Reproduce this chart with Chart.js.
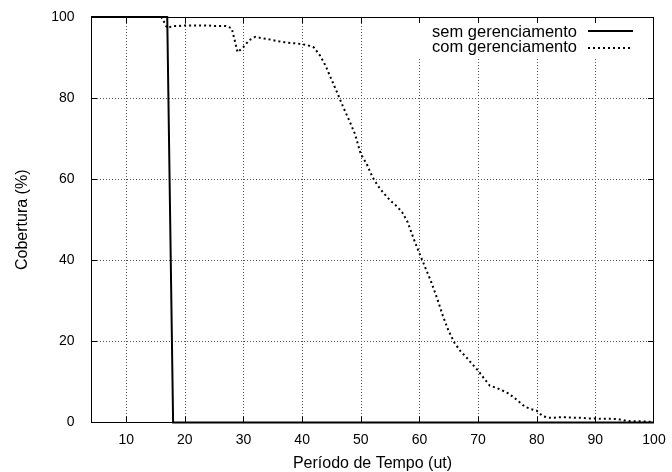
<!DOCTYPE html>
<html><head><meta charset="utf-8">
<script src="https://cdn.jsdelivr.net/npm/chart.js@4.4.1/dist/chart.umd.min.js"></script>
<style>html,body{margin:0;padding:0;background:#fff}#wrap{width:672px;height:472px}</style>
</head><body><div id="wrap"><canvas id="c" width="672" height="472"></canvas></div>
<script>
const periods = [4,5,6,7,8,9,10,11,12,13,14,15,16,17,18,19,20,21,22,23,24,25,26,27,28,29,30,
  31,32,33,34,35,36,37,38,39,40,41,42,43,44,45,46,47,48,49,50,51,52,53,54,55,56,57,58,59,60,
  61,62,63,64,65,66,67,68,69,70,71,72,73,74,75,76,77,78,79,80,81,82,83,84,85,86,87,88,89,90,
  91,92,93,94,95,96,97,98,99,100];
const semGerenciamento = [100,100,100,100,100,100,100,100,100,100,100,100,100,100,
  0,0,0,0,0,0,0,0,0,0,0,0,0,0,0,0,0,0,0,0,0,0,0,0,0,0,0,0,0,0,0,0,0,0,0,0,0,0,0,0,0,0,0,
  0,0,0,0,0,0,0,0,0,0,0,0,0,0,0,0,0,0,0,0,0,0,0,0,0,0,0,0,0,0,0,0,0,0,0,0,0,0,0,0];
const comGerenciamento = [100,100,100,100,100,100,100,100,100,100,100,100,100,
  97.3,97.8,97.8,97.9,97.9,97.9,97.9,97.9,97.8,97.8,97.8,97.2,91.3,92.6,
  94.3,95.1,94.8,94.6,94.3,94.0,93.8,93.6,93.5,93.3,93.0,92.5,90.6,88.0,84.6,81.3,77.8,74.6,71.2,66.2,
  63.8,60.5,58.2,56.4,54.8,53.5,52.0,49.4,45.4,41.7,38.2,34.7,30.7,26.3,22.5,19.6,17.6,16.1,14.4,12.8,
  10.9,9.1,8.6,8.0,7.3,6.3,5.1,3.9,3.3,2.9,1.6,1.2,1.2,1.3,1.3,1.2,1.2,1.1,1.0,1.0,
  0.9,0.9,0.9,0.8,0.5,0.3,0.3,0.3,0.2,0.2];
const xTicks = [10,20,30,40,50,60,70,80,90,100];
const yTicks = [0,20,40,60,80,100];
const seriesLabels = ['sem gerenciamento','com gerenciamento'];
const xTitle = 'Período de Tempo (ut)';
const yTitle = 'Cobertura (%)';

const FONT = '"Liberation Sans", Arial, Helvetica, sans-serif';

const framePlugin = {
  id: 'frame',
  beforeDatasetsDraw(chart) {
    const {ctx, chartArea: a, scales: {x, y}} = chart;
    ctx.save();
    // dotted grid
    ctx.strokeStyle = '#555';
    ctx.lineWidth = 1;
    ctx.setLineDash([1, 2]);
    xTicks.forEach(v => {
      if (v >= 100) return;
      const px = Math.round(x.getPixelForValue(v)) + 0.5;
      ctx.beginPath(); ctx.moveTo(px, a.top); ctx.lineTo(px, a.bottom); ctx.stroke();
    });
    yTicks.forEach(v => {
      if (v <= 0 || v >= 100) return;
      const py = Math.round(y.getPixelForValue(v)) + 0.5;
      ctx.beginPath(); ctx.moveTo(a.left, py); ctx.lineTo(a.right, py); ctx.stroke();
    });
    ctx.setLineDash([]);
    // key area (opaque)
    ctx.fillStyle = '#fff';
    ctx.fillRect(a.right - 242, a.top, 242, 40);
    // frame
    ctx.strokeStyle = '#000';
    ctx.lineWidth = 1;
    ctx.strokeRect(Math.round(a.left) + 0.5, Math.round(a.top) + 0.5,
      Math.round(a.right) - Math.round(a.left) - 1, Math.round(a.bottom) - Math.round(a.top) - 1);
    // inward tick marks on all sides
    const tl = 6;
    xTicks.forEach(v => {
      if (v >= 100) return;
      const px = Math.round(x.getPixelForValue(v)) + 0.5;
      ctx.beginPath();
      ctx.moveTo(px, a.bottom); ctx.lineTo(px, a.bottom - tl);
      ctx.moveTo(px, a.top); ctx.lineTo(px, a.top + tl);
      ctx.stroke();
    });
    yTicks.forEach(v => {
      if (v <= 0 || v >= 100) return;
      const py = Math.round(y.getPixelForValue(v)) + 0.5;
      ctx.beginPath();
      ctx.moveTo(a.left, py); ctx.lineTo(a.left + tl, py);
      ctx.moveTo(a.right, py); ctx.lineTo(a.right - tl, py);
      ctx.stroke();
    });
    ctx.restore();
  },
  afterDatasetsDraw(chart) {
    const {ctx, chartArea: a} = chart;
    ctx.save();
    ctx.font = '16.5px ' + FONT;
    ctx.fillStyle = '#000';
    ctx.textAlign = 'right';
    ctx.textBaseline = 'alphabetic';
    const tx = a.right - 77;
    ctx.fillText(seriesLabels[0], tx, a.top + 20);
    ctx.fillText(seriesLabels[1], tx, a.top + 35);
    ctx.strokeStyle = '#000';
    ctx.lineWidth = 2;
    ctx.beginPath(); ctx.moveTo(a.right - 66, a.top + 14); ctx.lineTo(a.right - 21, a.top + 14); ctx.stroke();
    ctx.setLineDash([2, 3]);
    ctx.beginPath(); ctx.moveTo(a.right - 66, a.top + 31); ctx.lineTo(a.right - 21, a.top + 31); ctx.stroke();
    ctx.restore();
  }
};

new Chart(document.getElementById('c'), {
  type: 'line',
  data: {
    datasets: [
      {
        label: seriesLabels[0],
        data: periods.map((p, i) => ({x: p, y: semGerenciamento[i]})),
        borderColor: '#000', borderWidth: 2, fill: false, clip: 4,
        pointRadius: 0, tension: 0
      },
      {
        label: seriesLabels[1],
        data: periods.map((p, i) => ({x: p, y: comGerenciamento[i]})),
        borderColor: '#000', borderWidth: 2, borderDash: [2, 3], borderCapStyle: 'butt',
        fill: false, clip: 4, pointRadius: 0, tension: 0
      }
    ]
  },
  options: {
    responsive: false, animation: false, devicePixelRatio: 1,
    layout: {padding: {left: 0, right: 18, top: 17, bottom: 0}},
    plugins: {legend: {display: false}, tooltip: {enabled: false}},
    scales: {
      x: {
        type: 'linear', min: 4, max: 100,
        afterBuildTicks: s => { s.ticks = xTicks.map(v => ({value: v})); },
        afterFit: s => { s.height = 49.5; s.paddingLeft = 0; s.paddingRight = 0; },
        grid: {display: false, drawTicks: false, tickLength: 0},
        border: {display: false},
        ticks: {padding: 9, color: '#000', font: {family: FONT, size: 14}, maxRotation: 0, autoSkip: false},
        title: {display: true, text: xTitle, color: '#000', font: {family: FONT, size: 16, lineHeight: 1}, padding: {top: 0, bottom: 0}}
      },
      y: {
        type: 'linear', min: 0, max: 100,
        afterBuildTicks: s => { s.ticks = yTicks.map(v => ({value: v})); },
        afterFit: s => { s.width = 91; s.paddingTop = 0; s.paddingBottom = 0; },
        grid: {display: false, drawTicks: false, tickLength: 0},
        border: {display: false},
        ticks: {padding: 16.5, color: '#000', font: {family: FONT, size: 14}},
        title: {display: true, text: yTitle, color: '#000', font: {family: FONT, size: 16, lineHeight: 1}, padding: {top: 15, bottom: 0}}
      }
    }
  },
  plugins: [framePlugin]
});
</script>
</body></html>
